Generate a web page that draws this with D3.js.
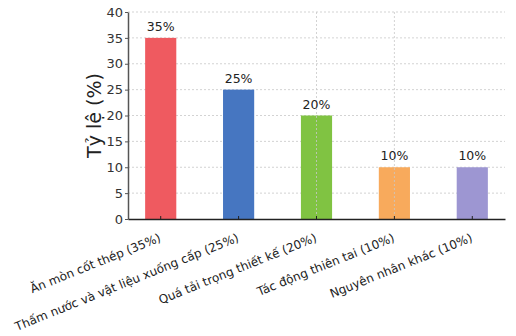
<!DOCTYPE html>
<html>
<head>
<meta charset="utf-8">
<script src="https://cdn.jsdelivr.net/npm/d3@7"></script>
<style>
  body { margin: 0; background: #fff; }
  text { font-family: "DejaVu Sans", sans-serif; fill: #222; }
  .tick text { font-size: 13px; fill: #333; }
  .grid line { stroke: #c8c8c8; stroke-dasharray: 2,2; stroke-width: 0.8; }
</style>
</head>
<body>
<div id="chart"></div>
<script>
const categories = ["Ăn mòn cốt thép (35%)", "Thấm nước và vật liệu xuống cấp (25%)",
    "Quá tải trọng thiết kế (20%)", "Tác động thiên tai (10%)", "Nguyên nhân khác (10%)"];
const values = [35, 25, 20, 10, 10];
const valueLabels = ["35%", "25%", "20%", "10%", "10%"];
const colors = ["#ef5a60", "#4676c1", "#80c342", "#f8aa5c", "#9d96d2"];
const yTicks = [0, 5, 10, 15, 20, 25, 30, 35, 40];
// vertical grid only shows at these categories in the picture
const vGrid = ["Quá tải trọng thiết kế (20%)", "Tác động thiên tai (10%)"];

const margin = {top: 12, right: 11, bottom: 117, left: 128};
const width = 516 - margin.left - margin.right,
    height = 336 - margin.top - margin.bottom;

let svg = d3.select("#chart")
    .append("svg")
    .attr("width", 516)
    .attr("height", 336)
    .append("g")
    .attr("transform", "translate(" + margin.left + "," + margin.top + ")");

let x = d3.scaleBand()
    .domain(categories)
    .range([0, width])
    .paddingInner(0.6)
    .paddingOuter(0.22);

let y = d3.scaleLinear()
    .domain([0, 40])
    .range([height, 0]);

// horizontal grid
svg.append("g")
    .attr("class", "grid")
    .selectAll("line")
    .data(yTicks.slice(1))
    .join("line")
    .attr("x1", 0)
    .attr("x2", width)
    .attr("y1", d => y(d))
    .attr("y2", d => y(d));

svg.selectAll(".bar")
    .data(values)
    .join("rect")
    .attr("class", "bar")
    .attr("x", (d, i) => x(categories[i]))
    .attr("y", d => y(d))
    .attr("width", x.bandwidth())
    .attr("height", d => height - y(d))
    .attr("fill", (d, i) => colors[i]);

// vertical grid
svg.append("g")
    .attr("class", "grid")
    .selectAll("line")
    .data(vGrid)
    .join("line")
    .attr("x1", d => x(d) + x.bandwidth() / 2)
    .attr("x2", d => x(d) + x.bandwidth() / 2)
    .attr("y1", 0)
    .attr("y2", height);

svg.selectAll(".val")
    .data(values)
    .join("text")
    .attr("class", "val")
    .attr("x", (d, i) => x(categories[i]) + x.bandwidth() / 2)
    .attr("y", d => y(d) - 7)
    .attr("text-anchor", "middle")
    .style("font-size", "12.5px")
    .text((d, i) => valueLabels[i]);

let yAxis = svg.append("g")
    .call(d3.axisLeft(y)
        .tickValues(yTicks)
        .tickSizeInner(3)
        .tickSizeOuter(0)
        .tickPadding(2));
yAxis.select(".domain").attr("stroke", "#555").attr("stroke-width", 1.5);
yAxis.selectAll(".tick line").attr("stroke", "#555");

let xAxis = svg.append("g")
    .attr("transform", "translate(0," + height + ")")
    .call(d3.axisBottom(x)
        .tickSizeInner(-3)
        .tickSizeOuter(0)
        .tickFormat(""));
xAxis.select(".domain").attr("stroke", "#222").attr("stroke-width", 1.5);
xAxis.selectAll(".tick line").attr("stroke", "#222");

svg.selectAll(".xlab")
    .data(categories)
    .join("text")
    .attr("class", "xlab")
    .attr("text-anchor", "end")
    .style("font-size", "12px")
    .attr("transform", d => "translate(" + (x(d) + x.bandwidth() / 2 + 1) + "," + (height + 22) + ") rotate(-22)")
    .text(d => d);

svg.append("text")
    .attr("transform", "translate(-27," + (height / 2) + ") rotate(-90)")
    .attr("text-anchor", "middle")
    .style("font-size", "19px")
    .text("Tỷ lệ (%)");
</script>
</body>
</html>
